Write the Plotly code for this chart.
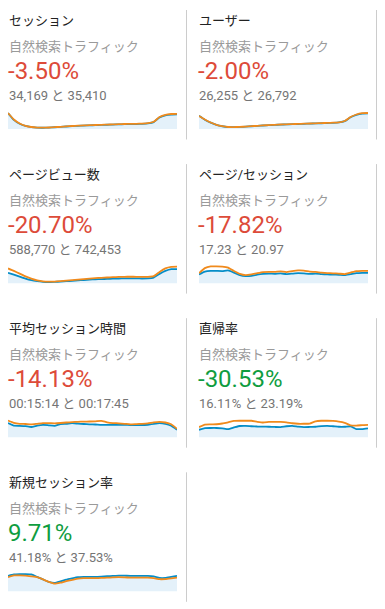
import plotly.graph_objects as go

W, H = 385, 609

# ---- data ----
titles = ["セッション", "ユーザー", "ページビュー数", "ページ/セッション",
          "平均セッション時間", "直帰率", "新規セッション率"]
segment = "自然検索トラフィック"
changes = ["-3.50%", "-2.00%", "-20.70%", "-17.82%", "-14.13%", "-30.53%", "9.71%"]
change_positive = [False, False, False, False, False, True, True]
current_totals = ["34,169", "26,255", "588,770", "17.23", "00:15:14", "16.11%", "41.18%"]
previous_totals = ["35,410", "26,792", "742,453", "20.97", "00:17:45", "23.19%", "37.53%"]

days = list(range(1, 31))

sessions_cur = [3150, 1830, 1080, 655, 432, 322, 300, 338, 395, 470, 546, 622, 678, 735, 772,
                810, 847, 885, 922, 960, 998, 1016, 1035, 1073, 1148, 1410, 2320, 2730, 2880, 2915]
sessions_prev = [3179, 1911, 1131, 683, 449, 332, 312, 351, 410, 488, 566, 644, 702, 761, 800,
                 839, 878, 917, 956, 995, 1034, 1053, 1073, 1112, 1190, 1463, 2399, 2828, 2984, 3023]

users_cur = [1830, 1300, 900, 595, 410, 305, 290, 318, 358, 410, 463, 516, 556, 595, 635,
             662, 688, 714, 741, 767, 794, 820, 847, 873, 926, 1098, 1628, 1958, 2130, 2157]
users_prev = [1796, 1323, 918, 608, 419, 311, 297, 324, 365, 419, 473, 527, 567, 608, 648,
              675, 702, 729, 756, 783, 810, 837, 864, 891, 945, 1121, 1661, 1998, 2174, 2201]

pageviews_cur = [38580, 32030, 24750, 17470, 11650, 8010, 5820, 5100, 5460, 6550, 8010, 9460,
                 10920, 12380, 13830, 14920, 15650, 16380, 17110, 17840, 18200, 18560, 18200,
                 17840, 18200, 21110, 34580, 45500, 52050, 52050]
pageviews_prev = [54600, 45500, 35670, 25480, 17470, 10920, 7280, 6190, 6550, 8010, 9830, 11650,
                  13470, 15290, 17470, 19290, 20380, 21480, 22570, 23660, 24020, 24390, 24020,
                  23660, 23660, 26210, 41860, 54600, 60420, 61150]

pps_cur = [16.3, 21.4, 22.8, 22.6, 22.3, 23.5, 19.5, 15.0, 13.2, 13.8, 15.9, 17.2, 17.7, 17.4, 18.1,
           16.8, 17.7, 18.6, 18.1, 17.2, 17.7, 16.8, 16.3, 15.9, 15.6, 15.0, 16.8, 18.6, 19.2, 19.2]
pps_prev = [18.6, 27.7, 30.8, 30.8, 30.4, 28.6, 22.3, 17.2, 15.0, 16.3, 18.6, 20.5, 21.0, 20.8, 21.7,
            20.5, 22.3, 23.5, 23.2, 21.4, 20.8, 19.5, 18.6, 18.3, 17.7, 16.8, 19.5, 22.3, 22.8, 22.8]

duration_cur = [1057, 873, 859, 837, 771, 873, 932, 895, 859, 991, 1006, 1050, 1020, 991, 969,
                954, 932, 932, 932, 932, 932, 918, 910, 918, 932, 1006, 1057, 1006, 859, 565]
duration_prev = [1248, 1079, 1006, 991, 962, 1006, 1050, 1057, 1042, 1064, 1101, 1130, 1152, 1167, 1174,
                 1189, 1226, 1116, 1057, 1042, 1006, 962, 984, 1006, 1042, 1116, 1152, 1101, 969, 639]

bounce_cur = [12.1, 14.7, 14.9, 14.9, 14.4, 13.2, 15.7, 18.0, 18.3, 17.6, 17.2, 17.1, 16.8, 16.5, 16.3,
              17.6, 18.3, 17.1, 16.3, 16.5, 16.8, 17.9, 18.3, 17.6, 16.8, 16.8, 17.6, 13.2, 13.2, 14.4]
bounce_prev = [16.3, 20.2, 20.4, 20.7, 21.9, 23.8, 25.9, 26.2, 26.2, 26.2, 24.6, 23.5, 24.3, 24.6, 24.3,
               23.8, 22.3, 21.5, 21.5, 21.8, 25.4, 26.2, 26.2, 25.9, 24.9, 23.0, 19.1, 18.6, 19.4, 19.9]

newrate_cur = [44.6, 48.6, 49.4, 49.4, 48.6, 41.7, 34.6, 27.5, 24.7, 29.0, 33.8, 37.5, 40.9, 41.7, 41.7,
               41.7, 42.6, 43.7, 44.6, 45.4, 45.2, 44.6, 44.6, 44.6, 44.6, 43.2, 38.9, 38.9, 41.7, 44.6]
newrate_prev = [40.9, 46.0, 46.0, 45.2, 43.2, 40.9, 34.6, 27.5, 22.4, 25.3, 29.8, 33.2, 36.9, 38.1, 38.1,
                38.1, 38.9, 39.5, 40.3, 40.9, 40.3, 39.8, 39.8, 39.8, 39.5, 38.1, 35.2, 35.5, 37.5, 39.8]

series_cur = [sessions_cur, users_cur, pageviews_cur, pps_cur, duration_cur, bounce_cur, newrate_cur]
series_prev = [sessions_prev, users_prev, pageviews_prev, pps_prev, duration_prev, bounce_prev, newrate_prev]
y_tops = [3900, 2700, 72800, 36.2, 1468, 31.3, 56.8]

# ---- style ----
BLUE = "#058dc7"
ORANGE = "#f08a1c"
FILL = "#e4f1fa"
RED = "#dd4b39"
GREEN = "#0f9d3f"
FONT = "Roboto, Noto Sans CJK JP, sans-serif"

ROW_PITCH = 154.1
COL_TEXT_X = [7, 197]
SPARK_X = [(8, 177), (199, 368)]


def py(px):
    return 1 - px / H


fig = go.Figure()
layout = dict(width=W, height=H, margin=dict(l=0, r=0, t=0, b=0),
              paper_bgcolor="white", plot_bgcolor="rgba(0,0,0,0)",
              showlegend=False, hovermode=False)
annotations = []
shapes = []

for k in range(7):
    row, col = divmod(k, 2)
    off = row * ROW_PITCH
    suffix = "" if k == 0 else str(k + 1)
    xa, ya = "x" + suffix, "y" + suffix
    x0, x1 = SPARK_X[col]
    bottom = 129.3 + off
    top = bottom - 20
    layout["xaxis" + suffix] = dict(domain=[x0 / W, x1 / W], range=[days[0], days[-1]],
                                    visible=False, fixedrange=True)
    layout["yaxis" + suffix] = dict(domain=[py(bottom), py(top)], range=[0, y_tops[k]],
                                    visible=False, fixedrange=True)
    fig.add_trace(go.Scatter(x=days, y=series_cur[k], mode="lines", xaxis=xa, yaxis=ya,
                             line=dict(color=BLUE, width=1.8, shape="spline", smoothing=0.4),
                             fill="tozeroy", fillcolor=FILL))
    fig.add_trace(go.Scatter(x=days, y=series_prev[k], mode="lines", xaxis=xa, yaxis=ya,
                             line=dict(color=ORANGE, width=1.8, shape="spline", smoothing=0.4)))

    tx = COL_TEXT_X[col] / W
    annotations.append(dict(text=titles[k], x=tx, y=py(20.5 + off), xref="paper", yref="paper",
                            xanchor="left", yanchor="middle", showarrow=False,
                            font=dict(family=FONT, size=13, color="#222222")))
    annotations.append(dict(text=segment, x=tx, y=py(46.5 + off), xref="paper", yref="paper",
                            xanchor="left", yanchor="middle", showarrow=False,
                            font=dict(family=FONT, size=13, color="#9a9a9a")))
    annotations.append(dict(text=changes[k], x=(COL_TEXT_X[col] - 1.5) / W, y=py(71 + off),
                            xref="paper", yref="paper",
                            xanchor="left", yanchor="middle", showarrow=False,
                            font=dict(family=FONT, size=24,
                                      color=GREEN if change_positive[k] else RED)))
    annotations.append(dict(text=f"{current_totals[k]} と {previous_totals[k]}", x=tx,
                            y=py(95 + off), xref="paper", yref="paper",
                            xanchor="left", yanchor="middle", showarrow=False,
                            font=dict(family=FONT, size=13, color="#757575")))

# separators
for row in range(4):
    off = row * ROW_PITCH
    xs = [186.5, 376.5] if row < 3 else [186.5]
    for sx in xs:
        shapes.append(dict(type="line", xref="paper", yref="paper",
                           x0=sx / W, x1=sx / W, y0=py(10 + off), y1=py(139.5 + off),
                           line=dict(color="#cccccc", width=1)))

layout["annotations"] = annotations
layout["shapes"] = shapes
fig.update_layout(**layout)
fig.write_html("out.html", config={"displayModeBar": False},
               post_script="document.body.style.margin='0';document.body.style.overflow='hidden';")
